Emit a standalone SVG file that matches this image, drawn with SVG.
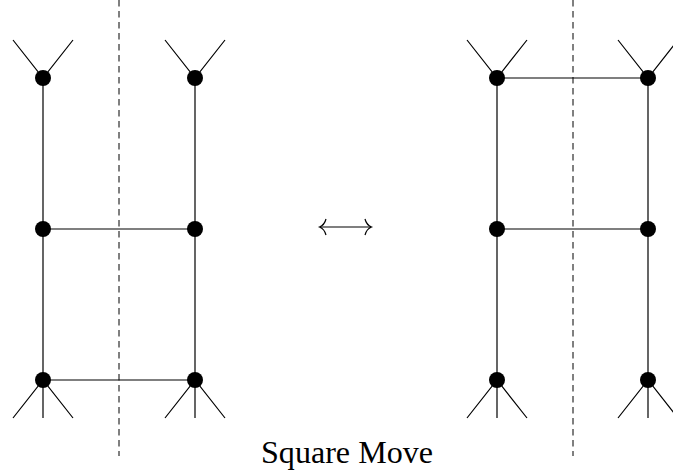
<svg xmlns="http://www.w3.org/2000/svg" width="673" height="471" viewBox="0 0 673 471">
<style>
.e{stroke:#000;stroke-width:1.2;fill:none}
.d{stroke:#000;stroke-width:1;stroke-dasharray:6.5 4.5;fill:none}
.n{fill:#000}
.t{font-family:"Liberation Serif","DejaVu Serif",serif;font-size:31px;fill:#000}
</style>
<rect width="673" height="471" fill="#fff"/>
<g id="connectors">
<line class="d" x1="119" y1="0" x2="119" y2="456"/>
<line class="d" x1="573" y1="0" x2="573" y2="456"/>
<path class="e" d="M43,78V380M195,78V380M43,229H195M43,380H195"/>
<path class="e" d="M13,40L43,78L73,40M165,40L195,78L225,40"/>
<path class="e" d="M13,418L43,380L73,418M43,380V418M165,418L195,380L225,418M195,380V418"/>
<path class="e" d="M497,78V380M648,78V380M497,78H648M497,229H648"/>
<path class="e" d="M467,40L497,78L527,40M618,40L648,78L678,40"/>
<path class="e" d="M467,418L497,380L527,418M497,380V418M618,418L648,380L678,418M648,380V418"/>
<path class="e" stroke-width="1.5" d="M320,227H371"/>
<path class="e" stroke-width="1.5" d="M326,219C325,223 322,226 319.5,227C322,228 325,231 326,235"/>
<path class="e" stroke-width="1.5" d="M365,219C366,223 369,226 371.5,227C369,228 366,231 365,235"/>
</g>
<g id="L1"><circle class="n" cx="43" cy="78" r="8"/></g>
<g id="L2"><circle class="n" cx="195" cy="78" r="8"/></g>
<g id="L3"><circle class="n" cx="43" cy="229" r="8"/></g>
<g id="L4"><circle class="n" cx="195" cy="229" r="8"/></g>
<g id="L5"><circle class="n" cx="43" cy="380" r="8"/></g>
<g id="L6"><circle class="n" cx="195" cy="380" r="8"/></g>
<g id="R1"><circle class="n" cx="497" cy="78" r="8"/></g>
<g id="R2"><circle class="n" cx="648" cy="78" r="8"/></g>
<g id="R3"><circle class="n" cx="497" cy="229" r="8"/></g>
<g id="R4"><circle class="n" cx="648" cy="229" r="8"/></g>
<g id="R5"><circle class="n" cx="497" cy="380" r="8"/></g>
<g id="R6"><circle class="n" cx="648" cy="380" r="8"/></g>
<g id="caption"><text class="t" x="261" y="463" textLength="172" lengthAdjust="spacingAndGlyphs">Square Move</text></g>
</svg>
